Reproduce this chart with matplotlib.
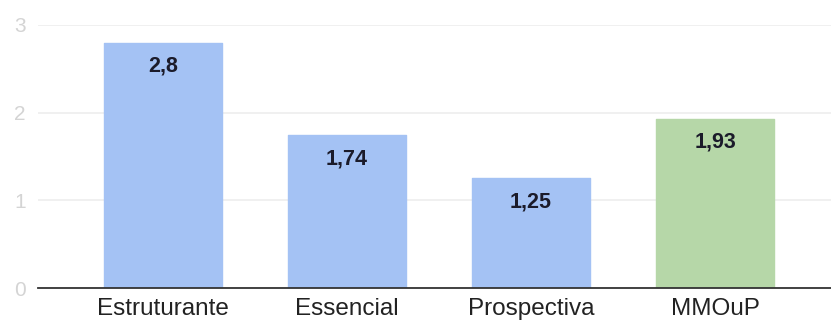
import matplotlib
matplotlib.use("Agg")
import matplotlib.pyplot as plt

categories = ["Estruturante", "Essencial", "Prospectiva", "MMOuP"]
values = [2.8, 1.74, 1.25, 1.93]
labels = ["2,8", "1,74", "1,25", "1,93"]
colors = ["#a4c2f4", "#a4c2f4", "#a4c2f4", "#b6d7a8"]
yticks = [0, 1, 2, 3]

plt.rcParams["font.family"] = ["Liberation Sans", "DejaVu Sans"]

fig = plt.figure(figsize=(8.31, 3.22), dpi=100)
ax = fig.add_axes([38 / 831, 1 - 288 / 322, 1 - 38 / 831, (288 - 25) / 322])

x = list(range(len(categories)))
bars = ax.bar(x, values, width=0.64, color=colors, edgecolor=colors,
              linewidth=1.0, zorder=3)
for b in bars:
    b.set_joinstyle("round")

for xi, v, lab in zip(x, values, labels):
    ax.annotate(lab, (xi, v), xytext=(0, -17), textcoords="offset points",
                ha="center", va="center", fontsize=15.5, fontweight="bold",
                color="#1b1b2a", zorder=4)

ax.set_xlim(-0.68, 3.63)
ax.set_ylim(0, 3)
ax.set_yticks(yticks)
ax.set_yticklabels([str(t) for t in yticks], fontsize=15, color="#d4d4d4")
ax.set_xticks(x)
ax.set_xticklabels(categories, fontsize=17.5, color="#222222")
ax.tick_params(axis="both", length=0)
ax.tick_params(axis="y", pad=9)
ax.tick_params(axis="x", pad=7)

ax.grid(axis="y", color="#eeeeee", linewidth=1.2, zorder=0)
for s in ["top", "right", "left"]:
    ax.spines[s].set_visible(False)
ax.spines["bottom"].set_color("#333333")
ax.spines["bottom"].set_linewidth(1.3)
ax.spines["bottom"].set_zorder(5)

fig.savefig("out.png", dpi=100, facecolor="white")
